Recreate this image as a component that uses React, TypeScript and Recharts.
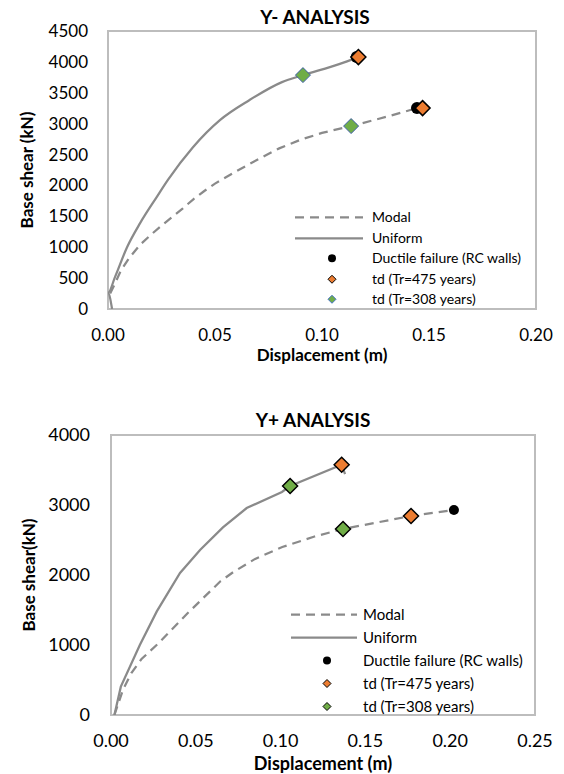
import React from 'react';
import { ComposedChart, Line, Scatter, XAxis, YAxis, ReferenceArea, Legend } from 'recharts';

// ---- Y- ANALYSIS data ----
const topModal = [
  { x: 0.001, y: 250 }, { x: 0.0035, y: 430 }, { x: 0.006, y: 620 }, { x: 0.01, y: 830 },
  { x: 0.015, y: 1040 }, { x: 0.02, y: 1200 }, { x: 0.025, y: 1350 }, { x: 0.03, y: 1490 },
  { x: 0.035, y: 1630 }, { x: 0.04, y: 1780 }, { x: 0.045, y: 1910 }, { x: 0.05, y: 2030 },
  { x: 0.06, y: 2230 }, { x: 0.07, y: 2420 }, { x: 0.08, y: 2600 }, { x: 0.09, y: 2740 },
  { x: 0.1, y: 2850 }, { x: 0.1136, y: 2961 }, { x: 0.13, y: 3110 }, { x: 0.1444, y: 3252 },
];
const topUniform = [
  { x: 0.0019, y: 0 }, { x: 0.0, y: 260 }, { x: 0.0033, y: 520 }, { x: 0.0089, y: 1000 },
  { x: 0.015, y: 1390 }, { x: 0.0229, y: 1820 }, { x: 0.028, y: 2090 }, { x: 0.0397, y: 2620 },
  { x: 0.0523, y: 3058 }, { x: 0.066, y: 3380 }, { x: 0.0813, y: 3673 }, { x: 0.0911, y: 3786 },
  { x: 0.108, y: 3964 }, { x: 0.117, y: 4078 },
];
const topDuctile = [{ x: 0.1162, y: 4080 }, { x: 0.1444, y: 3252 }];
const topTd475 = [{ x: 0.117, y: 4078 }, { x: 0.147, y: 3252 }];
const topTd308 = [{ x: 0.0911, y: 3786 }, { x: 0.1136, y: 2961 }];
const topXTicks = [0, 0.05, 0.1, 0.15, 0.2];
const topYTicks = [0, 500, 1000, 1500, 2000, 2500, 3000, 3500, 4000, 4500];

// ---- Y+ ANALYSIS data ----
const botModal = [
  { x: 0.002, y: 0 }, { x: 0.007, y: 357 }, { x: 0.012, y: 600 }, { x: 0.018, y: 800 },
  { x: 0.028, y: 1024 }, { x: 0.045, y: 1450 }, { x: 0.0645, y: 1910 }, { x: 0.072, y: 2040 },
  { x: 0.085, y: 2230 }, { x: 0.101, y: 2400 }, { x: 0.12, y: 2550 }, { x: 0.1368, y: 2657 },
  { x: 0.1769, y: 2843 }, { x: 0.2022, y: 2929 },
];
const botUniform = [
  { x: 0.002, y: 0 }, { x: 0.0058, y: 405 }, { x: 0.017, y: 1000 }, { x: 0.027, y: 1480 },
  { x: 0.0407, y: 2029 }, { x: 0.0525, y: 2357 }, { x: 0.066, y: 2680 }, { x: 0.08, y: 2957 },
  { x: 0.1008, y: 3186 }, { x: 0.1056, y: 3271 }, { x: 0.136, y: 3575 }, { x: 0.138, y: 3440 },
];
const botDuctile = [{ x: 0.136, y: 3580 }, { x: 0.2022, y: 2929 }];
const botTd475 = [{ x: 0.136, y: 3575 }, { x: 0.1769, y: 2843 }];
const botTd308 = [{ x: 0.1056, y: 3271 }, { x: 0.1368, y: 2657 }];
const botXTicks = [0, 0.05, 0.1, 0.15, 0.2, 0.25];
const botYTicks = [0, 1000, 2000, 3000, 4000];

const legendLabels = ['Modal', 'Uniform', 'Ductile failure (RC walls)', 'td (Tr=475 years)', 'td (Tr=308 years)'];

const FONT = 'Lato, "Open Sans", sans-serif';
const LINE = '#8a8a8a';
const ORANGE = '#ED7D31';
const GREEN = '#70AD47';
const BORDER = '#bdbdbd';

const Diamond = (size: number, fill: string, stroke: string, sw: number) => (props: any) => {
  const { cx, cy } = props;
  if (cx == null || cy == null) return <g />;
  const h = size / 2;
  return (
    <path
      d={`M${cx},${cy - h} L${cx + h},${cy} L${cx},${cy + h} L${cx - h},${cy} Z`}
      fill={fill}
      stroke={stroke}
      strokeWidth={sw}
    />
  );
};

const Circle = (r: number) => (props: any) => {
  const { cx, cy } = props;
  if (cx == null || cy == null) return <g />;
  return <circle cx={cx} cy={cy} r={r} fill="#000" />;
};

type LegendCfg = {
  rowH: number;
  fontSize: number;
  svgW: number;
  lineX1: number;
  lineX2: number;
  markX: number;
  gap: number;
  td308Stroke: string;
};

const makeLegend = (cfg: LegendCfg) => () => (
  <div style={{ fontFamily: FONT, fontSize: cfg.fontSize, color: '#000' }}>
    {legendLabels.map((lab, i) => (
      <div key={lab} style={{ display: 'flex', alignItems: 'center', height: cfg.rowH, whiteSpace: 'nowrap' }}>
        <svg width={cfg.svgW} height={cfg.rowH} style={{ display: 'block', flex: 'none' }}>
          {i === 0 && (
            <line x1={cfg.lineX1} x2={cfg.lineX2} y1={cfg.rowH / 2} y2={cfg.rowH / 2} stroke={LINE} strokeWidth={2.25} strokeDasharray="9 6" />
          )}
          {i === 1 && (
            <line x1={cfg.lineX1} x2={cfg.lineX2} y1={cfg.rowH / 2} y2={cfg.rowH / 2} stroke={LINE} strokeWidth={2.25} />
          )}
          {i === 2 && <circle cx={cfg.markX} cy={cfg.rowH / 2} r={4} fill="#000" />}
          {i === 3 &&
            Diamond(8, ORANGE, '#000', 1)({ cx: cfg.markX, cy: cfg.rowH / 2 })}
          {i === 4 &&
            Diamond(8, GREEN, cfg.td308Stroke, 1)({ cx: cfg.markX, cy: cfg.rowH / 2 })}
        </svg>
        <span style={{ marginLeft: cfg.gap, lineHeight: 1 }}>{lab}</span>
      </div>
    ))}
  </div>
);

const fmt = (v: number) => v.toFixed(2);

function Overlay({ text, x, y, size, rotate }: { text: string; x: number; y: number; size: number; rotate?: boolean }) {
  return (
    <div
      style={{
        position: 'absolute',
        left: x,
        top: y,
        transform: `translate(-50%, -50%)${rotate ? ' rotate(-90deg)' : ''}`,
        fontFamily: FONT,
        fontWeight: 700,
        fontSize: size,
        whiteSpace: 'nowrap',
        color: '#000',
        lineHeight: 1,
      }}
    >
      {text}
    </div>
  );
}

export default function App() {
  return (
    <div style={{ position: 'absolute', left: 0, top: 0, width: 564, height: 774, background: '#fff', overflow: 'hidden' }}>
      {/* Top chart */}
      <div style={{ position: 'absolute', left: 0, top: 0 }}>
        <ComposedChart width={564} height={380} margin={{ top: 31, right: 28, left: 0, bottom: 41 }}>
          <XAxis
            type="number"
            dataKey="x"
            domain={[0, 0.2]}
            ticks={topXTicks}
            interval={0}
            tickFormatter={fmt}
            axisLine={false}
            tickLine={false}
            tickSize={0}
            tickMargin={20}
            height={30}
            allowDataOverflow
            tick={{ fill: '#000', fontSize: 17, fontFamily: FONT }}
          />
          <YAxis
            type="number"
            dataKey="y"
            domain={[0, 4500]}
            ticks={topYTicks}
            interval={0}
            axisLine={false}
            tickLine={false}
            tickSize={0}
            tickMargin={20}
            width={108}
            allowDataOverflow
            tick={{ fill: '#000', fontSize: 17, fontFamily: FONT }}
          />
          <ReferenceArea x1={0} x2={0.2} y1={0} y2={4500} fill="none" stroke={BORDER} strokeWidth={2} ifOverflow="visible" />
          <Line data={topModal} dataKey="y" type="linear" stroke={LINE} strokeWidth={2.25} strokeDasharray="9 6" dot={false} isAnimationActive={false} legendType="none" />
          <Line data={topUniform} dataKey="y" type="monotone" stroke={LINE} strokeWidth={2.25} dot={false} isAnimationActive={false} legendType="none" />
          <Scatter data={topDuctile} dataKey="y" shape={Circle(6)} isAnimationActive={false} legendType="none" />
          <Scatter data={topTd475} dataKey="y" shape={Diamond(15, ORANGE, '#000', 1.5)} isAnimationActive={false} legendType="none" />
          <Scatter data={topTd308} dataKey="y" shape={Diamond(15, GREEN, '#3F5FA8', 1)} isAnimationActive={false} legendType="none" />
          <Legend
            layout="vertical"
            align="center"
            verticalAlign="middle"
            content={makeLegend({ rowH: 20.5, fontSize: 14, svgW: 78, lineX1: 5, lineX2: 73, markX: 42, gap: 4, td308Stroke: '#4472C4' })}
            wrapperStyle={{ left: 290, top: 207, width: 250, bottom: 'auto', right: 'auto' }}
          />
        </ComposedChart>
        <Overlay text="Y- ANALYSIS" x={315} y={16} size={19} />
        <Overlay text="Base shear (kN)" x={26} y={170} size={17} rotate />
        <Overlay text="Displacement (m)" x={322} y={354} size={17} />
      </div>

      {/* Bottom chart */}
      <div style={{ position: 'absolute', left: 0, top: 390 }}>
        <ComposedChart width={564} height={384} margin={{ top: 45, right: 29, left: 0, bottom: 29 }}>
          <XAxis
            type="number"
            dataKey="x"
            domain={[0, 0.25]}
            ticks={botXTicks}
            interval={0}
            tickFormatter={fmt}
            axisLine={false}
            tickLine={false}
            tickSize={0}
            tickMargin={19}
            height={30}
            allowDataOverflow
            tick={{ fill: '#000', fontSize: 18, fontFamily: FONT }}
          />
          <YAxis
            type="number"
            dataKey="y"
            domain={[0, 4000]}
            ticks={botYTicks}
            interval={0}
            axisLine={false}
            tickLine={false}
            tickSize={0}
            tickMargin={21}
            width={111}
            allowDataOverflow
            tick={{ fill: '#000', fontSize: 18, fontFamily: FONT }}
          />
          <ReferenceArea x1={0} x2={0.25} y1={0} y2={4000} fill="none" stroke={BORDER} strokeWidth={2} ifOverflow="visible" />
          <Line data={botModal} dataKey="y" type="linear" stroke={LINE} strokeWidth={2.25} strokeDasharray="9 6" dot={false} isAnimationActive={false} legendType="none" />
          <Line data={botUniform} dataKey="y" type="linear" stroke={LINE} strokeWidth={2.25} dot={false} isAnimationActive={false} legendType="none" />
          <Scatter data={botDuctile} dataKey="y" shape={Circle(5)} isAnimationActive={false} legendType="none" />
          <Scatter data={botTd475} dataKey="y" shape={Diamond(15, ORANGE, '#000', 1.5)} isAnimationActive={false} legendType="none" />
          <Scatter data={botTd308} dataKey="y" shape={Diamond(15, GREEN, '#000', 1.5)} isAnimationActive={false} legendType="none" />
          <Legend
            layout="vertical"
            align="center"
            verticalAlign="middle"
            content={makeLegend({ rowH: 23, fontSize: 15, svgW: 74, lineX1: 5, lineX2: 71, markX: 41, gap: 3, td308Stroke: '#000' })}
            wrapperStyle={{ left: 286, top: 212.5, width: 250, bottom: 'auto', right: 'auto' }}
          />
        </ComposedChart>
        <Overlay text="Y+ ANALYSIS" x={313} y={29} size={19} />
        <Overlay text="Base shear(kN)" x={28} y={185} size={17} rotate />
        <Overlay text="Displacement (m)" x={323} y={373} size={18} />
      </div>
    </div>
  );
}
